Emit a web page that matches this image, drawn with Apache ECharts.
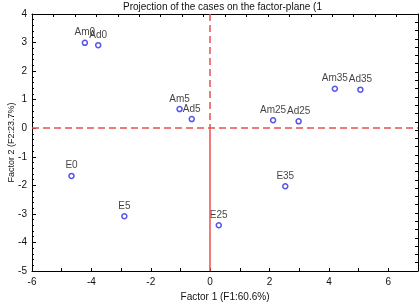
<!DOCTYPE html>
<html>
<head>
<meta charset="utf-8">
<script src="https://cdn.jsdelivr.net/npm/echarts@6/dist/echarts.min.js"></script>
<style>
html,body{margin:0;padding:0;background:#fff;}
#chart{width:420px;height:304px;}
</style>
</head>
<body>
<div id="chart"></div>
<script>
// cases and their coordinates on the factor plane
var caseNames = ['Am0', 'Ad0', 'Am5', 'Ad5', 'Am25', 'Ad25', 'Am35', 'Ad35', 'E0', 'E5', 'E35', 'E25'];
var factor1 = [-4.22, -3.77, -1.03, -0.62, 2.12, 2.98, 4.20, 5.06, -4.67, -2.89, 2.53, 0.29];
var factor2 = [2.99, 2.91, 0.67, 0.32, 0.28, 0.24, 1.38, 1.35, -1.67, -3.08, -2.03, -3.40];

var xMin = -6, xMax = 7;
var yMin = -5, yMax = 4;

var points = caseNames.map(function (n, i) {
	return { name: n, value: [factor1[i], factor2[i]] };
});

var txt = '#111';
var font = 'Liberation Sans';
var red = '#e8504f';

var myChart = echarts.init(document.getElementById('chart'));
var option = {
	animation: false,
	textStyle: { fontFamily: font },
	title: {
		text: 'Projection of the cases on the factor-plane (1',
		left: 118,
		top: -3,
		textStyle: { fontSize: 10, fontWeight: 'normal', color: txt, fontFamily: font }
	},
	grid: { left: 32, right: 2, top: 14, bottom: 33, containLabel: false, outerBoundsMode: 'none' },
	xAxis: [{
		type: 'value',
		min: xMin, max: xMax, interval: 1,
		name: 'Factor 1 (F1:60.6%)',
		nameLocation: 'middle',
		nameGap: 21,
		nameMoveOverlap: false,
		nameTextStyle: { fontSize: 10, color: txt },
		axisLine: { onZero: false, lineStyle: { color: '#000', width: 1 } },
		axisTick: { inside: true, length: 3, interval: 0, lineStyle: { color: '#000' } },
		axisLabel: {
			fontSize: 10, color: txt, margin: 6,
			formatter: function (v) { return v % 2 === 0 ? String(v) : ''; }
		},
		splitLine: { show: false }
	}, {
		type: 'value',
		position: 'top',
		min: 0, max: 18, interval: 1,
		axisLine: { onZero: false, lineStyle: { color: '#000', width: 1 } },
		axisTick: { inside: true, length: 3, lineStyle: { color: '#000' } },
		axisLabel: { show: false },
		splitLine: { show: false }
	}],
	yAxis: [{
		type: 'value',
		min: yMin, max: yMax, interval: 1,
		name: 'Factor 2 (F2:23.7%)',
		nameLocation: 'middle',
		nameGap: 16,
		nameMoveOverlap: false,
		nameTextStyle: { fontSize: 9, color: txt },
		axisLine: { onZero: false, lineStyle: { color: '#000', width: 1 } },
		axisTick: { inside: true, length: 4, lineStyle: { color: '#000' } },
		minorTick: { show: true, splitNumber: 5, length: 2, lineStyle: { color: '#000' } },
		axisLabel: { fontSize: 10, color: txt, margin: 5 },
		splitLine: { show: false }
	}, {
		type: 'value',
		position: 'right',
		min: 0, max: 31, interval: 1,
		axisLine: { onZero: false, lineStyle: { color: '#000', width: 1 } },
		axisTick: { inside: true, length: 3, lineStyle: { color: '#000' } },
		axisLabel: { show: false },
		splitLine: { show: false }
	}],
	series: [{
		type: 'scatter',
		xAxisIndex: 0,
		yAxisIndex: 0,
		data: points,
		symbol: 'circle',
		symbolSize: 5,
		itemStyle: { color: '#fff', borderColor: '#2a2ae8', borderWidth: 1.5 },
		label: {
			show: true,
			position: 'top',
			distance: 2,
			formatter: '{b}',
			fontSize: 10,
			color: txt
		},
		markLine: {
			silent: true,
			symbol: 'none',
			label: { show: false },
			data: [
				[{ coord: [xMin, 0], lineStyle: { type: [7, 4], color: red, width: 1.5 } }, { coord: [xMax, 0] }],
				[{ coord: [0, yMax], lineStyle: { type: [7, 4], color: red, width: 1.5 } }, { coord: [0, 0] }],
				[{ coord: [0, 0], lineStyle: { type: 'solid', color: red, width: 1.5 } }, { coord: [0, yMin] }]
			]
		}
	}]
};
myChart.setOption(option);
</script>
</body>
</html>
